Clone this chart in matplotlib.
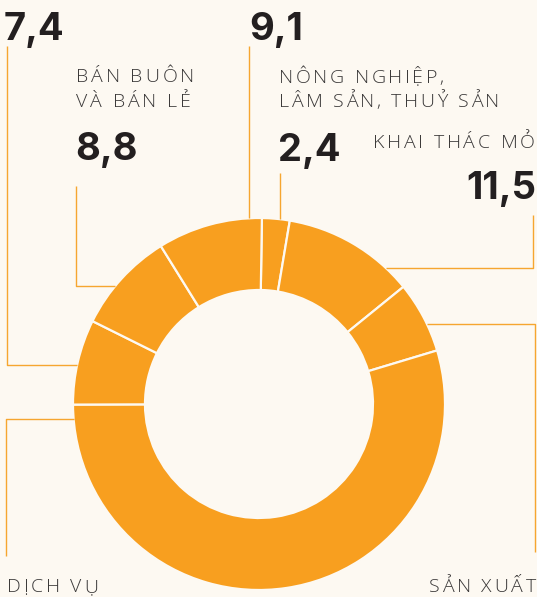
import numpy as np
import matplotlib.pyplot as plt
from matplotlib.textpath import TextToPath
from matplotlib.font_manager import FontProperties

# Share by sector (%), clockwise from 12 o'clock
values = [2.4, 11.5, 6.2, 54.6, 7.4, 8.8, 9.1]
value_text = ["2,4", "11,5", None, None, "7,4", "8,8", "9,1"]
label_text = [["KHAI THÁC MỎ"], None, ["SẢN XUẤT"], ["DỊCH VỤ"], None,
              ["BÁN BUÔN", "VÀ BÁN LẺ"], ["NÔNG NGHIỆP,", "LÂM SẢN, THUỶ SẢN"]]

bg = "#fdf9f2"
orange = "#f89f1f"
line_c = "#f6a630"
dark = "#231f20"
grey = "#3a3838"

W, H = 537, 597
cx, cy, R, r_in = 259, 404, 186, 114

fig = plt.figure(figsize=(W / 100, H / 100), dpi=100, facecolor=bg)
ax = fig.add_axes([0, 0, 1, 1])
ax.set_facecolor(bg)
ax.axis("off")

ax.pie(values, center=(cx, cy), radius=R, startangle=270.9, counterclock=True,
       colors=[orange] * len(values),
       wedgeprops=dict(width=R - r_in, edgecolor=bg, linewidth=1.6))
ax.set_xlim(0, W)
ax.set_ylim(H, 0)
ax.set_aspect("equal")


def edge_x(y, side):
    return cx + side * np.sqrt(R ** 2 - (y - cy) ** 2)


def edge_y(x):
    return cy - np.sqrt(R ** 2 - (x - cx) ** 2)


lk = dict(color=line_c, lw=1.0, solid_capstyle="butt")
# leader lines
ax.plot([7, 7, edge_x(365, -1)], [46, 365, 365], **lk)          # 7,4
ax.plot([76, 76, edge_x(286, -1)], [186, 286, 286], **lk)       # 8,8
ax.plot([249, 249], [46, edge_y(249)], **lk)                    # 9,1
ax.plot([280, 280], [173, edge_y(280)], **lk)                   # 2,4
ax.plot([533, 533, edge_x(268, 1)], [215, 268, 268], **lk)      # 11,5
ax.plot([535, 535, edge_x(324, 1)], [552, 324, 324], **lk)      # San xuat
ax.plot([6, 6, edge_x(419, -1)], [556, 419, 419], **lk)         # Dich vu

num_kw = dict(family="Inter", weight="bold", fontsize=27.5, color=dark, va="baseline")

ax.text(4, 40, value_text[4], ha="left", **num_kw)
ax.text(75, 160, value_text[5], ha="left", **num_kw)
ax.text(249, 40, value_text[6], ha="left", **num_kw)
ax.text(278, 161, value_text[0], ha="left", **num_kw)
ax.text(536, 199, value_text[1], ha="right", **num_kw)

# letter-spaced category labels
lab_size = 14
lab_prop = FontProperties(family="Open Sans", weight="light", size=lab_size)
ttp = TextToPath()
px = 100 / 72


def char_w(c):
    if c == " ":
        return 0.26 * lab_size * px
    return ttp.get_text_width_height_descent(c, lab_prop, ismath=False)[0] * px


def tracked(x0, base, s, target, ha="left"):
    ws = [char_w(c) for c in s]
    track = (target - sum(ws)) / (len(s) - 1)
    x = x0 if ha == "left" else x0 - target
    for c, w in zip(s, ws):
        if c != " ":
            ax.text(x, base, c, ha="left", va="baseline", fontproperties=lab_prop, color=grey)
        x += w + track


tracked(76, 82, label_text[5][0], 118)
tracked(76, 107, label_text[5][1], 115)
tracked(279, 83, label_text[6][0], 165)
tracked(279, 107, label_text[6][1], 220)
tracked(535, 148, label_text[0][0], 162, ha="right")
tracked(536, 592, label_text[2][0], 107, ha="right")
tracked(7, 592, label_text[3][0], 91)

fig.savefig("out.png", dpi=100, facecolor=bg)
